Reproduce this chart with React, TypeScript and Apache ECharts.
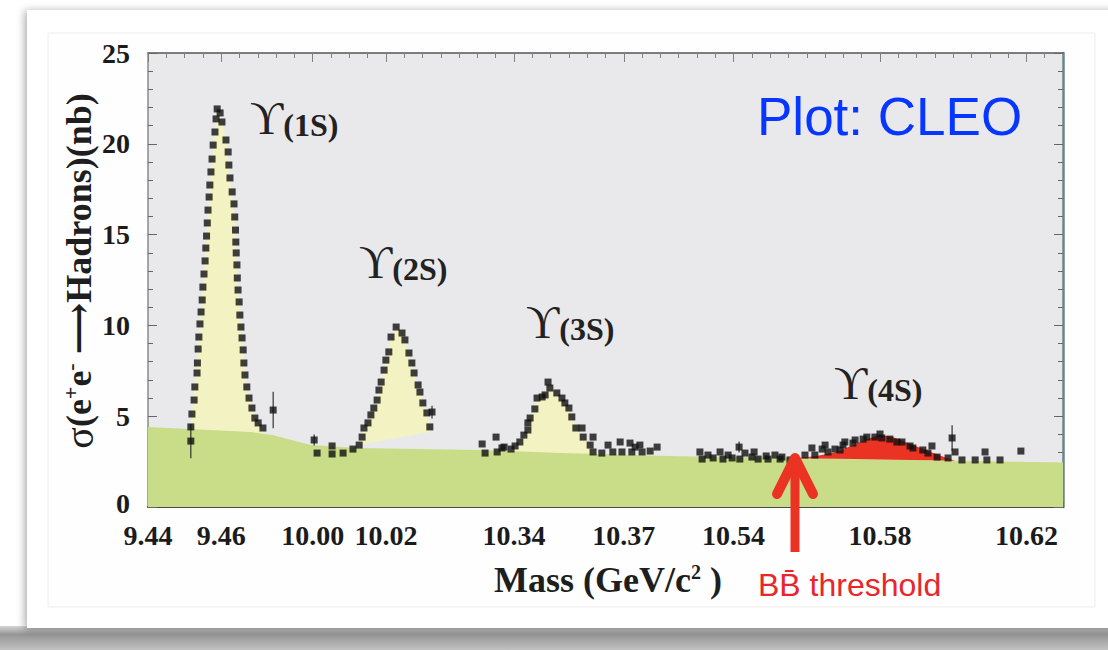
import React, { useEffect, useRef } from 'react';
import * as echarts from 'echarts';

const SERIF = "'Liberation Serif', 'DejaVu Serif', 'Times New Roman', serif";
const SANS = "'Liberation Sans', Arial, Helvetica, sans-serif";

// Mass windows (GeV) placed side by side on the broken x axis, all at one scale
const MASS_WINDOWS: [number, number][] = [
  [9.44, 9.48],
  [9.995, 10.04],
  [10.325, 10.385],
  [10.525, 10.63],
];
const X_TICK_MASSES = [9.44, 9.46, 10.0, 10.02, 10.34, 10.37, 10.54, 10.58, 10.62];
const Y_MAX = 25;
const Y_STEP = 5;

// Measured cross sections [mass GeV, sigma nb]
const POINTS_1S: [number, number][] = [
  [9.4517, 3.63], [9.4517, 4.41], [9.452, 5.12], [9.4526, 5.89], [9.4528, 6.61], [9.4534, 7.38],
  [9.4535, 7.93], [9.4537, 8.7], [9.4539, 9.36], [9.4542, 10.08], [9.4545, 10.74], [9.4548, 11.4],
  [9.455, 12.11], [9.4553, 12.83], [9.4556, 13.55], [9.4558, 14.26], [9.456, 14.92], [9.4562, 15.64],
  [9.4564, 16.35], [9.4567, 17.07], [9.4569, 17.73], [9.4572, 18.45], [9.4575, 19.16], [9.4578, 19.93],
  [9.4583, 20.65], [9.4586, 21.37], [9.4589, 21.92], [9.4597, 21.7], [9.4602, 21.2], [9.4613, 20.21],
  [9.4619, 19.55], [9.4621, 18.83], [9.4624, 18.12], [9.463, 17.35], [9.4635, 16.69], [9.4637, 15.97],
  [9.4639, 15.25], [9.464, 14.59], [9.4641, 13.99], [9.4643, 13.33], [9.4644, 12.61], [9.4646, 11.95],
  [9.4649, 11.29], [9.4651, 10.57], [9.4654, 9.91], [9.4657, 9.31], [9.466, 8.65], [9.4662, 7.93],
  [9.4665, 7.27], [9.467, 6.61], [9.4676, 6.0], [9.4684, 5.45], [9.4692, 4.9], [9.4701, 4.63],
  [9.4714, 4.35], [9.4742, 5.34],
];
const POINTS_2S: [number, number][] = [
  [10.0004, 3.69], [10.0012, 2.97], [10.0053, 3.36], [10.0053, 2.92], [10.0083, 2.97], [10.011, 3.19],
  [10.0127, 3.41], [10.0135, 3.85], [10.014, 4.35], [10.0151, 4.63], [10.0159, 5.07], [10.0167, 5.45],
  [10.0176, 5.89], [10.0181, 6.44], [10.0187, 6.88], [10.0195, 7.54], [10.02, 8.09], [10.0208, 8.54],
  [10.0214, 9.36], [10.0228, 9.91], [10.0244, 9.58], [10.0252, 9.2], [10.0263, 8.48], [10.0271, 7.93],
  [10.0277, 7.38], [10.0288, 6.72], [10.0293, 6.33], [10.0301, 5.73], [10.0312, 5.18], [10.0326, 5.23],
  [10.032, 4.41],
];
const POINTS_3S: [number, number][] = [
  [10.3313, 3.47], [10.3321, 2.97], [10.3351, 3.85], [10.3354, 3.03], [10.3367, 3.25], [10.3373, 3.3],
  [10.3392, 3.19], [10.3403, 3.36], [10.3416, 3.58], [10.3427, 3.96], [10.3438, 4.24], [10.3438, 4.63],
  [10.3444, 4.9], [10.3457, 5.4], [10.3463, 6.0], [10.3477, 6.06], [10.3485, 6.17], [10.3493, 6.88],
  [10.3498, 6.55], [10.3517, 6.28], [10.3531, 6.0], [10.3539, 5.73], [10.355, 5.45], [10.3558, 4.96],
  [10.3569, 4.35], [10.3586, 4.35], [10.3589, 3.85], [10.3608, 3.41], [10.3616, 3.85], [10.3616, 3.03],
  [10.364, 2.97], [10.3657, 3.41], [10.367, 3.03], [10.369, 3.58], [10.3695, 3.03], [10.3717, 3.52],
  [10.3722, 3.03], [10.3731, 3.3], [10.3744, 3.41], [10.375, 3.03], [10.3772, 3.08], [10.3791, 3.3],
];
const POINTS_4S: [number, number][] = [
  [10.5308, 3.03], [10.5314, 2.64], [10.533, 2.86], [10.5344, 2.7], [10.5363, 3.03], [10.5371, 2.64],
  [10.5385, 2.86], [10.5396, 2.7], [10.5415, 3.3], [10.5417, 2.64], [10.5431, 2.97], [10.545, 2.75],
  [10.5456, 3.03], [10.5467, 2.64], [10.5489, 2.81], [10.5494, 2.64], [10.5513, 2.86], [10.5527, 2.64],
  [10.5532, 2.75], [10.5554, 2.59], [10.5595, 2.86], [10.5614, 3.25], [10.5622, 2.86], [10.5642, 3.19],
  [10.565, 3.41], [10.5658, 3.03], [10.5677, 3.19], [10.5691, 3.14], [10.5699, 3.41], [10.5704, 3.58],
  [10.5726, 3.52], [10.5732, 3.69], [10.5754, 3.74], [10.5764, 3.85], [10.5786, 3.85], [10.58, 4.02],
  [10.5805, 3.8], [10.5827, 3.74], [10.5846, 3.58], [10.586, 3.58], [10.5882, 3.36], [10.589, 3.25],
  [10.5917, 3.14], [10.5931, 2.97], [10.5942, 3.36], [10.5956, 2.75], [10.5986, 2.7], [10.5997, 3.8],
  [10.6005, 3.03], [10.6024, 2.59], [10.606, 2.59], [10.6087, 3.03], [10.6092, 2.59], [10.6128, 2.59],
  [10.6185, 3.08],
];
// [mass, sigma, half-length of the error bar]
const ERROR_BARS: [number, number, number][] = [
  [9.4517, 3.63, 0.94], [9.4742, 5.34, 1.0], [10.0004, 3.69, 0.3], [10.0326, 5.23, 0.35],
  [10.5415, 3.3, 0.3], [10.5997, 3.8, 0.7],
];

// Non-resonant continuum (green band top)
const CONTINUUM: [number, number][] = [
  [9.44, 4.4], [9.468, 4.13], [9.474, 3.96], [9.48, 3.65], [9.9995, 3.41], [10.012, 3.25],
  [10.3307, 3.14], [10.3526, 2.97], [10.525, 2.8], [10.63, 2.45],
];
// Resonance line shapes (yellow fills), closed by a straight base
const SHAPE_1S: [number, number][] = [
  [9.4515, 4.25], [9.4522, 5.6], [9.453, 7.4], [9.454, 9.6], [9.455, 12.1], [9.456, 14.9], [9.4569, 17.7],
  [9.4578, 19.9], [9.4586, 21.4], [9.4592, 21.8], [9.4602, 21.2], [9.4613, 20.2], [9.4624, 18.1],
  [9.4637, 15.9], [9.4644, 12.6], [9.4651, 10.6], [9.466, 8.6], [9.467, 6.6], [9.4684, 5.4],
  [9.4701, 4.6], [9.4714, 4.05],
];
const SHAPE_2S: [number, number][] = [
  [10.0127, 3.41], [10.014, 4.35], [10.0159, 5.07], [10.0176, 5.89], [10.0187, 6.88], [10.02, 8.09],
  [10.0214, 9.3], [10.0228, 9.9], [10.0244, 9.58], [10.0263, 8.48], [10.0277, 7.38], [10.0293, 6.33],
  [10.0312, 5.18], [10.032, 4.41], [10.0322, 4.15],
];
const SHAPE_3S: [number, number][] = [
  [10.3392, 3.0], [10.3416, 3.55], [10.3427, 3.95], [10.3444, 4.9], [10.3463, 6.0], [10.3485, 6.2],
  [10.3493, 6.85], [10.3517, 6.25], [10.3539, 5.7], [10.3558, 4.95], [10.3569, 4.35], [10.3589, 3.85],
  [10.3608, 3.4], [10.363, 2.9],
];
// Upsilon(4S) above BB threshold (red fill over the continuum)
const SHAPE_4S: [number, number][] = [
  [10.5568, 2.69], [10.5622, 2.8], [10.5677, 3.0], [10.5732, 3.45], [10.5764, 3.75], [10.58, 3.96],
  [10.5835, 3.85], [10.589, 3.41], [10.5942, 3.0], [10.5975, 2.75], [10.6005, 2.55],
];

const round4 = (v: number) => Math.round(v * 1e4) / 1e4;

// Mass -> position on the joined axis (in MeV from the left end)
function toU(m: number): number {
  let start = 0;
  for (const [lo, hi] of MASS_WINDOWS) {
    if (m <= hi + 1e-9) return round4(start + (Math.max(m, lo) - lo) * 1000);
    start = round4(start + (hi - lo) * 1000);
  }
  return start;
}
const U_MAX = toU(MASS_WINDOWS[MASS_WINDOWS.length - 1][1]);
const X_TICK_U = X_TICK_MASSES.map(toU);

function continuumAt(m: number): number {
  for (let i = 0; i < CONTINUUM.length - 1; i++) {
    const [m0, v0] = CONTINUUM[i];
    const [m1, v1] = CONTINUUM[i + 1];
    if (m >= m0 && m <= m1) return v0 + ((v1 - v0) * (m - m0)) / (m1 - m0);
  }
  return CONTINUUM[CONTINUUM.length - 1][1];
}

const toXY = (p: [number, number]) => [toU(p[0]), p[1]];

function polygonSeries(points: number[][], color: string, z: number) {
  return {
    type: 'custom',
    coordinateSystem: 'cartesian2d',
    xAxisIndex: 0,
    yAxisIndex: 0,
    silent: true,
    clip: true,
    z,
    data: [points[0]],
    renderItem: (_params: any, api: any) => ({
      type: 'polygon',
      shape: { points: points.map((p) => api.coord(p)) },
      style: { fill: color },
    }),
  };
}

const tickLabel = (val: number) => {
  const i = X_TICK_U.findIndex((u) => Math.abs(u - val) < 1e-3);
  return i >= 0 ? X_TICK_MASSES[i].toFixed(2) : '';
};

const peakLabel = (name: string, x: number, y: number) => ({
  type: 'text',
  x,
  y,
  z: 50,
  style: {
    text: `{u|ϒ}{p|(${name})}`,
    align: 'left',
    verticalAlign: 'bottom',
    rich: {
      u: { fontFamily: SERIF, fontSize: 46, fill: '#222', verticalAlign: 'bottom' },
      p: { fontFamily: SERIF, fontSize: 32, fontWeight: 'bold', fill: '#222', verticalAlign: 'bottom' },
    },
  },
});

export default function App() {
  const ref = useRef<HTMLDivElement>(null);

  useEffect(() => {
    document.body.style.margin = '0';
    if (!ref.current) return;
    const chart = echarts.init(ref.current, undefined, { renderer: 'svg' });

    const continuumPoly = [
      [0, 0],
      ...CONTINUUM.map(toXY),
      [U_MAX, 0],
    ];
    const redPoly = [
      ...SHAPE_4S.map(toXY),
      ...SHAPE_4S.slice().reverse().map(([m]) => [toU(m), continuumAt(m)]),
    ];
    const allPoints = [...POINTS_1S, ...POINTS_2S, ...POINTS_3S, ...POINTS_4S].map(toXY);

    const axisLabelStyle = {
      fontFamily: SERIF,
      fontWeight: 'bold',
      fontSize: 28,
      color: '#1b1b1b',
    };

    const xBase = {
      type: 'value',
      min: 0,
      max: U_MAX,
      gridIndex: 0,
      splitLine: { show: false },
    };
    const yBase = {
      type: 'value',
      min: 0,
      max: Y_MAX,
      interval: Y_STEP,
      splitLine: { show: false },
    };

    chart.setOption({
      animation: false,
      backgroundColor: 'transparent',
      grid: {
        left: 148,
        right: 45,
        top: 53,
        bottom: 143,
        show: true,
        backgroundColor: '#e9e9eb',
        borderWidth: 0,
      },
      xAxis: [
        {
          ...xBase,
          position: 'bottom',
          interval: 5,
          axisLine: { show: true, onZero: false, lineStyle: { color: '#4a4a4a', width: 2 } },
          axisTick: { show: true, inside: true, length: 5, lineStyle: { color: '#707070', width: 1 } },
          axisLabel: {
            show: true,
            customValues: X_TICK_U,
            formatter: tickLabel,
            margin: 14,
            ...axisLabelStyle,
          },
        },
        {
          ...xBase,
          position: 'bottom',
          axisLine: { show: false, onZero: false },
          axisTick: { show: true, inside: true, length: 9, customValues: X_TICK_U, lineStyle: { color: '#707070', width: 1 } },
          axisLabel: { show: false },
        },
        {
          ...xBase,
          position: 'top',
          interval: 5,
          axisLine: { show: true, onZero: false, lineStyle: { color: '#555', width: 1.5 } },
          axisTick: { show: true, inside: true, length: 5, lineStyle: { color: '#808080', width: 1 } },
          axisLabel: { show: false },
        },
        {
          ...xBase,
          position: 'top',
          axisLine: { show: false, onZero: false },
          axisTick: { show: true, inside: true, length: 9, customValues: X_TICK_U, lineStyle: { color: '#808080', width: 1 } },
          axisLabel: { show: false },
        },
      ],
      yAxis: [
        {
          ...yBase,
          position: 'left',
          axisLine: { show: true, onZero: false, lineStyle: { color: '#8a8a8a', width: 1.5 } },
          axisTick: { show: true, inside: true, length: 9, lineStyle: { color: '#666', width: 1 } },
          minorTick: { show: true, splitNumber: 5, length: 5, lineStyle: { color: '#666', width: 1 } },
          axisLabel: {
            show: true,
            margin: 18,
            ...axisLabelStyle,
            // the zero label sits a little higher, clear of the first mass label
            formatter: (v: number) => (v === 0 ? '{z|0}' : String(v)),
            rich: { z: { ...axisLabelStyle, padding: [0, 0, 8, 0] } },
          },
        },
        {
          ...yBase,
          position: 'right',
          axisLine: { show: true, onZero: false, lineStyle: { color: '#6a8686', width: 2.5 } },
          axisTick: { show: true, inside: true, length: 9, lineStyle: { color: '#666', width: 1 } },
          minorTick: { show: true, splitNumber: 5, length: 5, lineStyle: { color: '#666', width: 1 } },
          axisLabel: { show: false },
        },
      ],
      series: [
        polygonSeries(SHAPE_1S.map(toXY), '#f3f2c3', 2),
        polygonSeries(SHAPE_3S.map(toXY), '#f3f2c3', 2),
        polygonSeries(continuumPoly, '#c9dc88', 3),
        polygonSeries(SHAPE_2S.map(toXY), '#f3f2c3', 4),
        polygonSeries(redPoly, '#ea3323', 4),
        {
          type: 'custom',
          coordinateSystem: 'cartesian2d',
          xAxisIndex: 0,
          yAxisIndex: 0,
          silent: true,
          z: 6,
          data: ERROR_BARS.map(([m, v, e]) => [toU(m), v, e]),
          encode: { x: 0, y: 1 },
          renderItem: (_params: any, api: any) => {
            const x = api.value(0);
            const y = api.value(1);
            const e = api.value(2);
            const a = api.coord([x, y - e]);
            const b = api.coord([x, y + e]);
            return {
              type: 'line',
              shape: { x1: a[0], y1: a[1], x2: b[0], y2: b[1] },
              style: { stroke: '#333', lineWidth: 1.2 },
            };
          },
        },
        {
          type: 'scatter',
          xAxisIndex: 0,
          yAxisIndex: 0,
          symbol: 'rect',
          symbolSize: 7,
          z: 8,
          silent: true,
          itemStyle: { color: '#101010' },
          data: allPoints,
        },
      ],
      graphic: [
        { type: 'rect', z: -10, silent: true, shape: { x: 0, y: 0, width: 1108, height: 650 }, style: { fill: '#ffffff' } },
        {
          type: 'rect',
          z: -9,
          silent: true,
          shape: { x: 0, y: 626, width: 1108, height: 24 },
          style: {
            fill: new echarts.graphic.LinearGradient(0, 0, 0, 1, [
              { offset: 0, color: '#d6d6d6' },
              { offset: 0.35, color: '#959595' },
              { offset: 1, color: '#c2c2c2' },
            ]),
          },
        },
        {
          type: 'rect',
          z: -8,
          silent: true,
          shape: { x: 27, y: 10, width: 1100, height: 618 },
          style: { fill: '#ffffff', shadowBlur: 8, shadowColor: 'rgba(0,0,0,0.35)', shadowOffsetX: -2, shadowOffsetY: 1 },
        },
        {
          type: 'rect',
          z: -7,
          silent: true,
          shape: { x: 48, y: 33, width: 1047, height: 574 },
          style: { fill: '#fefefe', stroke: '#ededed', lineWidth: 1 },
        },
        peakLabel('1S', 250, 141),
        peakLabel('2S', 359, 285),
        peakLabel('3S', 526, 345),
        peakLabel('4S', 834, 406),
        {
          type: 'text',
          x: 757,
          y: 116,
          z: 50,
          style: { text: 'Plot: CLEO', fontFamily: SANS, fontSize: 53, fill: '#0636ff', align: 'left', verticalAlign: 'middle' },
        },
        {
          type: 'line',
          z: 60,
          silent: true,
          shape: { x1: 795, y1: 462, x2: 795, y2: 552 },
          style: { stroke: '#ea3323', lineWidth: 9 },
        },
        {
          type: 'polyline',
          z: 60,
          silent: true,
          shape: { points: [[777, 494], [795, 458], [813, 494]] },
          style: { stroke: '#ea3323', lineWidth: 10, lineCap: 'round', lineJoin: 'round', fill: 'none' },
        },
        {
          type: 'text',
          x: 758,
          y: 585,
          z: 50,
          style: { text: 'BB\u0304 threshold', fontFamily: SANS, fontSize: 32, fill: '#e8262b', align: 'left', verticalAlign: 'middle' },
        },
        {
          type: 'text',
          x: 608,
          y: 580,
          z: 50,
          style: {
            text: '{b|Mass (GeV/c}{s|2}{b| )}',
            align: 'center',
            verticalAlign: 'middle',
            rich: {
              b: { fontFamily: SERIF, fontWeight: 'bold', fontSize: 36, fill: '#1e1e1e' },
              s: { fontFamily: SERIF, fontWeight: 'bold', fontSize: 20, fill: '#1e1e1e', verticalAlign: 'top' },
            },
          },
        },
        {
          type: 'text',
          x: 79,
          y: 271,
          rotation: Math.PI / 2,
          z: 50,
          style: {
            text: '{g|σ}{b|(e}{s|+}{b|e}{s|-}{b| ⟶Hadrons)(nb)}',
            align: 'center',
            verticalAlign: 'middle',
            rich: {
              g: { fontFamily: SERIF, fontSize: 40, fill: '#1e1e1e' },
              b: { fontFamily: SERIF, fontWeight: 'bold', fontSize: 36, fill: '#1e1e1e' },
              s: { fontFamily: SERIF, fontWeight: 'bold', fontSize: 22, fill: '#1e1e1e', verticalAlign: 'top' },
            },
          },
        },
      ],
    });

    return () => chart.dispose();
  }, []);

  return <div ref={ref} style={{ width: 1108, height: 650 }} />;
}
